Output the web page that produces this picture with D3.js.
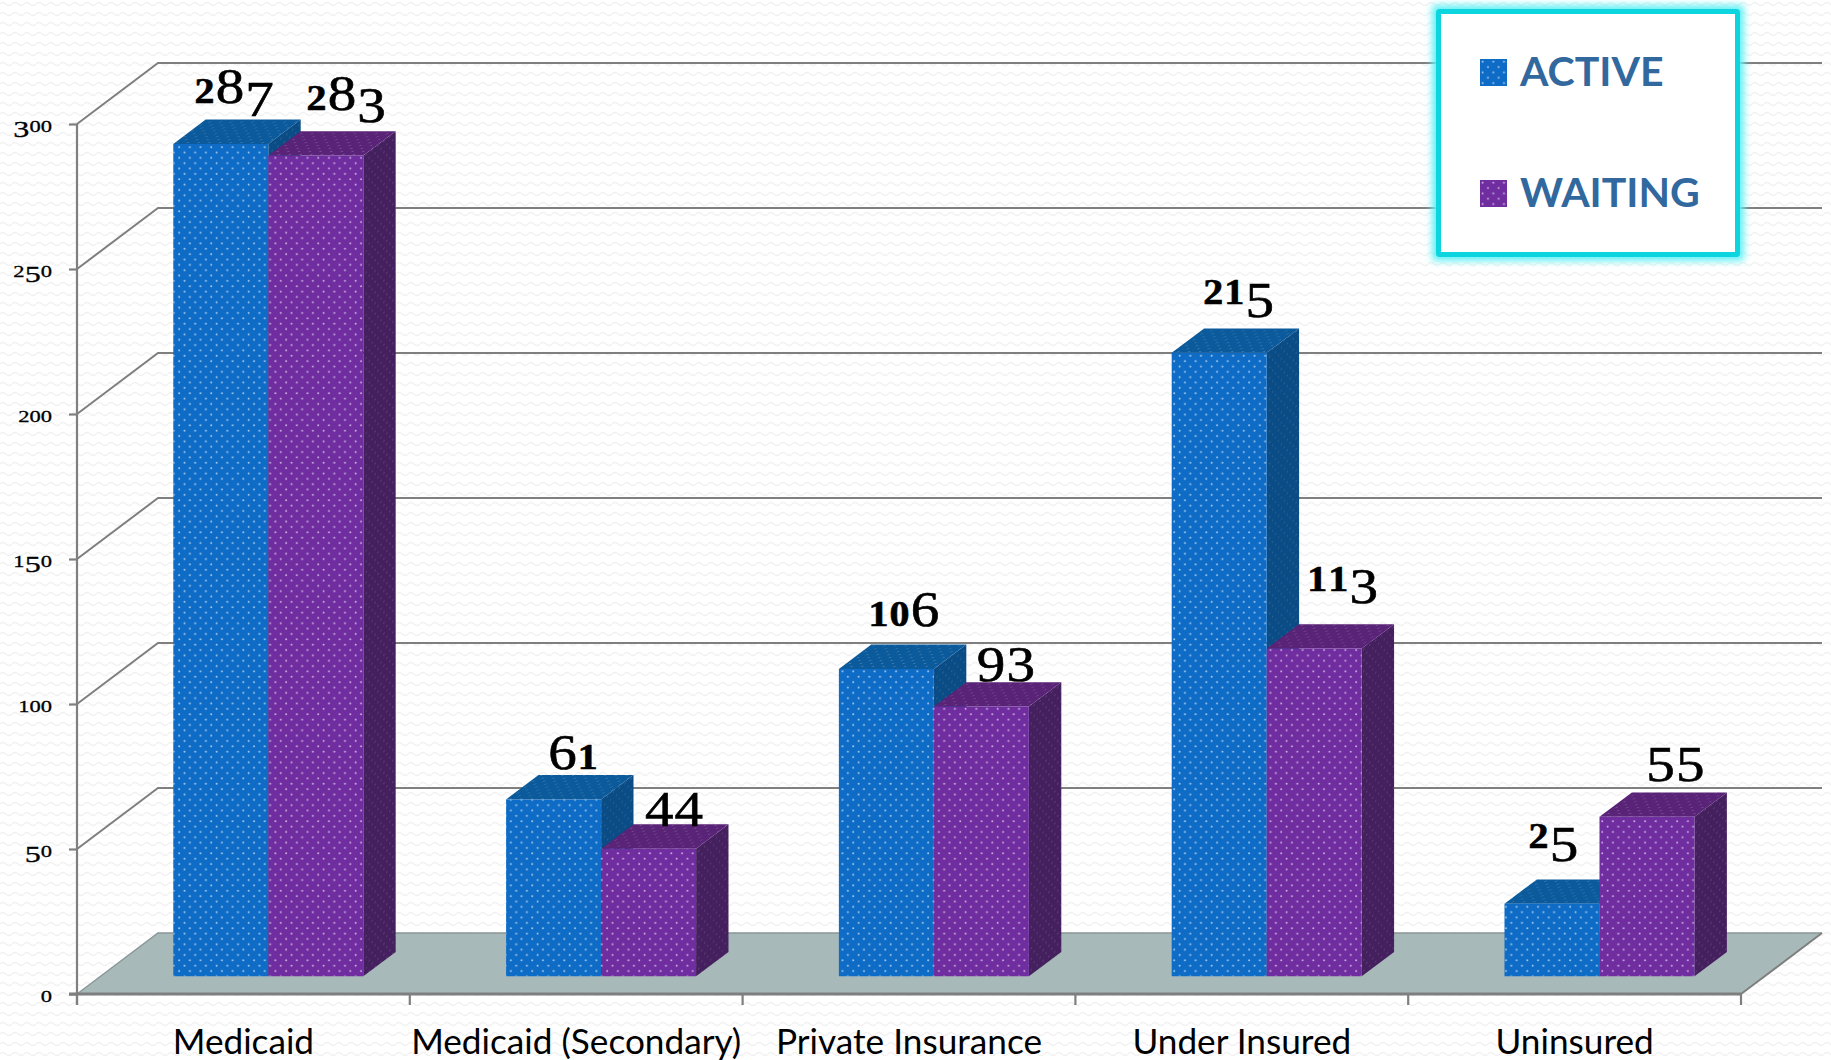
<!DOCTYPE html>
<html>
<head>
<meta charset="utf-8">
<script src="https://cdn.jsdelivr.net/npm/d3@7"></script>
<style>
  html, body { margin: 0; padding: 0; background: #fff; overflow: hidden; }
  .num { font-family: "Liberation Serif", serif; fill: #000; }
  .cat { font-family: Lato, sans-serif; font-size: 35.2px; fill: #000; }
  .lgd { font-family: Lato, sans-serif; font-weight: 700; font-size: 41px; fill: #31689e; }
</style>
</head>
<body>
<svg id="chart" width="1831" height="1060"></svg>
<script>
// data
const categories = ["Medicaid", "Medicaid (Secondary)", "Private Insurance", "Under Insured", "Uninsured"]
const seriesNames = ["ACTIVE", "WAITING"]
const active = [287, 61, 106, 215, 25]
const waiting = [283, 44, 93, 113, 55]
const yTicks = [0, 50, 100, 150, 200, 250, 300]

const frontColors = ["#0e6cc6", "#6f2da0"]
const topColors = ["#0b5a9b", "#592377"]
const sideColors = ["#0a4c85", "#45205f"]

// label nudges, x then y, for each series and category
const nudgeActive = [[14, -41], [20, -30], [18, -43], [20, -49], [2, -56]]
const nudgeWaiting = [[31, -46], [26, -35], [25, -38], [29, -58], [29, -49]]

const svg = d3.select("#chart")
const defs = svg.append("defs")

// layout of the fake 3d box
const depthX = 81, depthY = 61
const barFront = 0.29, barBack = 0.69
const barShift = 1.4

let x = d3.scaleBand().domain(categories).range([77, 1741])
let inner = d3.scaleBand().domain(seriesNames).range([0, 190])
let y = d3.scaleLinear().domain([0, 300]).range([994, 124])
const innerPad = (x.bandwidth() - inner.range()[1]) / 2 + barShift

// background weave
let bg = defs.append("pattern").attr("id", "weave").attr("patternUnits", "userSpaceOnUse")
    .attr("width", 12).attr("height", 10)
bg.append("path").attr("d", "M0 4 Q3 1 6 4 T12 4").attr("fill", "none")
    .attr("stroke", "#f1f1f1").attr("stroke-width", 1.4)
svg.append("rect").attr("width", 1831).attr("height", 1060).attr("fill", "#fff")
svg.append("rect").attr("width", 1831).attr("height", 1060).attr("fill", "url(#weave)")

// dots on the bars, one pattern per face type
function dotPattern(id, transform, opacity) {
    let p = defs.append("pattern").attr("id", id).attr("patternUnits", "userSpaceOnUse")
        .attr("width", 10.7).attr("height", 10.7)
    if (transform) p.attr("patternTransform", transform)
    p.append("circle").attr("cx", 2.6).attr("cy", 2.6).attr("r", 1).attr("fill", "#fff").attr("opacity", opacity)
    p.append("circle").attr("cx", 7.95).attr("cy", 7.95).attr("r", 1).attr("fill", "#fff").attr("opacity", opacity)
}
dotPattern("dotsFront", null, 0.62)
dotPattern("dotsTop", "skewX(-53) scale(1 0.55)", 0.22)
dotPattern("dotsSide", "skewY(-37) scale(0.55 1)", 0.16)

// floor
const line = d3.line()
let floorPts = [[x.range()[0], y(0)], [x.range()[0] + depthX, y(0) - depthY],
                [x.range()[1] + depthX, y(0) - depthY], [x.range()[1], y(0)]]
svg.append("path").attr("d", line(floorPts) + "Z").attr("fill", "#a8b9ba")
svg.append("path").attr("d", line(floorPts.slice(0, 3))).attr("fill", "none").attr("stroke", "#8b9797").attr("stroke-width", 1.5)

// grid: one diagonal and one back line per tick
let grid = svg.append("g").attr("fill", "none").attr("stroke", "#7f7f7f").attr("stroke-width", 2)
yTicks.filter(d => d > 0).forEach(function (d) {
    grid.append("path").attr("d", line([[x.range()[0], y(d)],
                                        [x.range()[0] + depthX, y(d) - depthY],
                                        [x.range()[1] + depthX, y(d) - depthY]]))
})
grid.append("path").attr("d", line([[x.range()[1], y(0)], [x.range()[1] + depthX, y(0) - depthY]]))

// bars
function drawBar(cat, s, value) {
    let i = seriesNames.indexOf(s)
    let g = svg.append("g").attr("class", "bar")
    let x0 = x(cat) + innerPad + inner(s) + depthX * barFront
    let x1 = x0 + inner.bandwidth()
    let lift = depthY * barFront
    let yB = y(0) - lift
    let yT = y(value) - lift
    let dx = depthX * (barBack - barFront), dy = depthY * (barBack - barFront)
    let front = [[x0, yT], [x1, yT], [x1, yB], [x0, yB]]
    let top = [[x0, yT], [x0 + dx, yT - dy], [x1 + dx, yT - dy], [x1, yT]]
    let side = [[x1, yT], [x1 + dx, yT - dy], [x1 + dx, yB - dy], [x1, yB]]
    ;[[side, sideColors[i], "dotsSide"], [top, topColors[i], "dotsTop"], [front, frontColors[i], "dotsFront"]].forEach(function (f) {
        g.append("path").attr("d", line(f[0]) + "Z").attr("fill", f[1])
        g.append("path").attr("d", line(f[0]) + "Z").attr("fill", `url(#${f[2]})`)
    })
}
categories.forEach(function (c, i) {
    drawBar(c, seriesNames[0], active[i])
    drawBar(c, seriesNames[1], waiting[i])
})

// old style figures: liberation has none, so size and drop each digit by hand
function oldStyle(sel, str, size, smallWeight) {
    sel.attr("font-size", size).attr("stroke", "#000").attr("stroke-width", size * 0.012)
    let shift = 0
    str.split("").forEach(function (ch) {
        let small = "012".includes(ch)
        let drop = "34579".includes(ch) ? size * 0.25 : 0
        sel.append("tspan")
            .attr("font-size", small ? size * 0.7 : size)
            .attr("font-weight", small ? smallWeight : 400)
            .attr("dy", drop - shift)
            .text(ch)
        shift = drop
    })
}

// y axis
let yAxis = d3.axisLeft(y).tickValues(yTicks).tickSize(8).tickFormat("")
let yG = svg.append("g").attr("transform", `translate(${x.range()[0]},0)`).call(yAxis)
yG.selectAll("path, line").attr("stroke", "#7f7f7f").attr("stroke-width", 2.2)
yG.select(".domain").attr("d", `M0,${y(300)}V${y(0) + 11}`)
yG.selectAll(".tick").each(function (d) {
    let t = d3.select(this).select("text").attr("class", "num").attr("text-anchor", "end")
        .attr("x", 0).attr("y", 0).attr("dy", null)
        .attr("transform", "translate(-25,7) scale(1.4,1)")
    t.text("")
    oldStyle(t, String(d), 23, 400)
})

// x axis
let xAxis = d3.axisBottom(x).tickSize(0).tickPadding(35)
let xG = svg.append("g").attr("transform", `translate(0,${y(0)})`).call(xAxis)
xG.select(".domain").attr("stroke", "#7f7f7f").attr("stroke-width", 3).attr("d", `M${x.range()[0] - 8},0H${x.range()[1]}`)
xG.selectAll(".tick text").attr("class", "cat")
xG.selectAll(".edge").data(d3.range(categories.length + 1)).enter().append("line").attr("class", "edge")
    .attr("x1", d => x.range()[0] + d * x.step()).attr("x2", d => x.range()[0] + d * x.step())
    .attr("y1", 0).attr("y2", 11).attr("stroke", "#7f7f7f").attr("stroke-width", 2.2)

// value labels
function drawLabels(values, s, nudge) {
    values.forEach(function (v, i) {
        let cx = x(categories[i]) + innerPad + inner(s) + inner.bandwidth() / 2 + depthX * barFront
        let t = svg.append("text").attr("class", "num").attr("text-anchor", "middle")
            .attr("letter-spacing", 1)
            .attr("transform", `translate(${cx + nudge[i][0]},${y(v) - depthY * barFront + nudge[i][1]}) scale(1.12,1)`)
        oldStyle(t, String(v), 51, 700)
    })
}
drawLabels(active, seriesNames[0], nudgeActive)
drawLabels(waiting, seriesNames[1], nudgeWaiting)

// legend
let glow = defs.append("filter").attr("id", "glow").attr("x", "-10%").attr("y", "-10%").attr("width", "120%").attr("height", "120%")
glow.append("feGaussianBlur").attr("stdDeviation", 3.5)
let lg = svg.append("g").attr("class", "legend")
lg.append("rect").attr("x", 1432).attr("y", 5).attr("width", 312).attr("height", 256).attr("rx", 3)
    .attr("fill", "#63f1f5").attr("filter", "url(#glow)")
lg.append("rect").attr("x", 1438.5).attr("y", 11.5).attr("width", 299).attr("height", 243).attr("rx", 1)
    .attr("fill", "#fff").attr("stroke", "#0dd5e0").attr("stroke-width", 5)
seriesNames.forEach(function (s, i) {
    let row = lg.append("g").attr("transform", `translate(1480,${59 + i * 121})`)
    row.append("rect").attr("width", 27).attr("height", 27).attr("fill", frontColors[i])
    row.append("rect").attr("width", 27).attr("height", 27).attr("fill", "url(#dotsFront)")
    row.append("text").attr("class", "lgd").attr("x", 40).attr("y", 27).text(s)
})
</script>
</body>
</html>
